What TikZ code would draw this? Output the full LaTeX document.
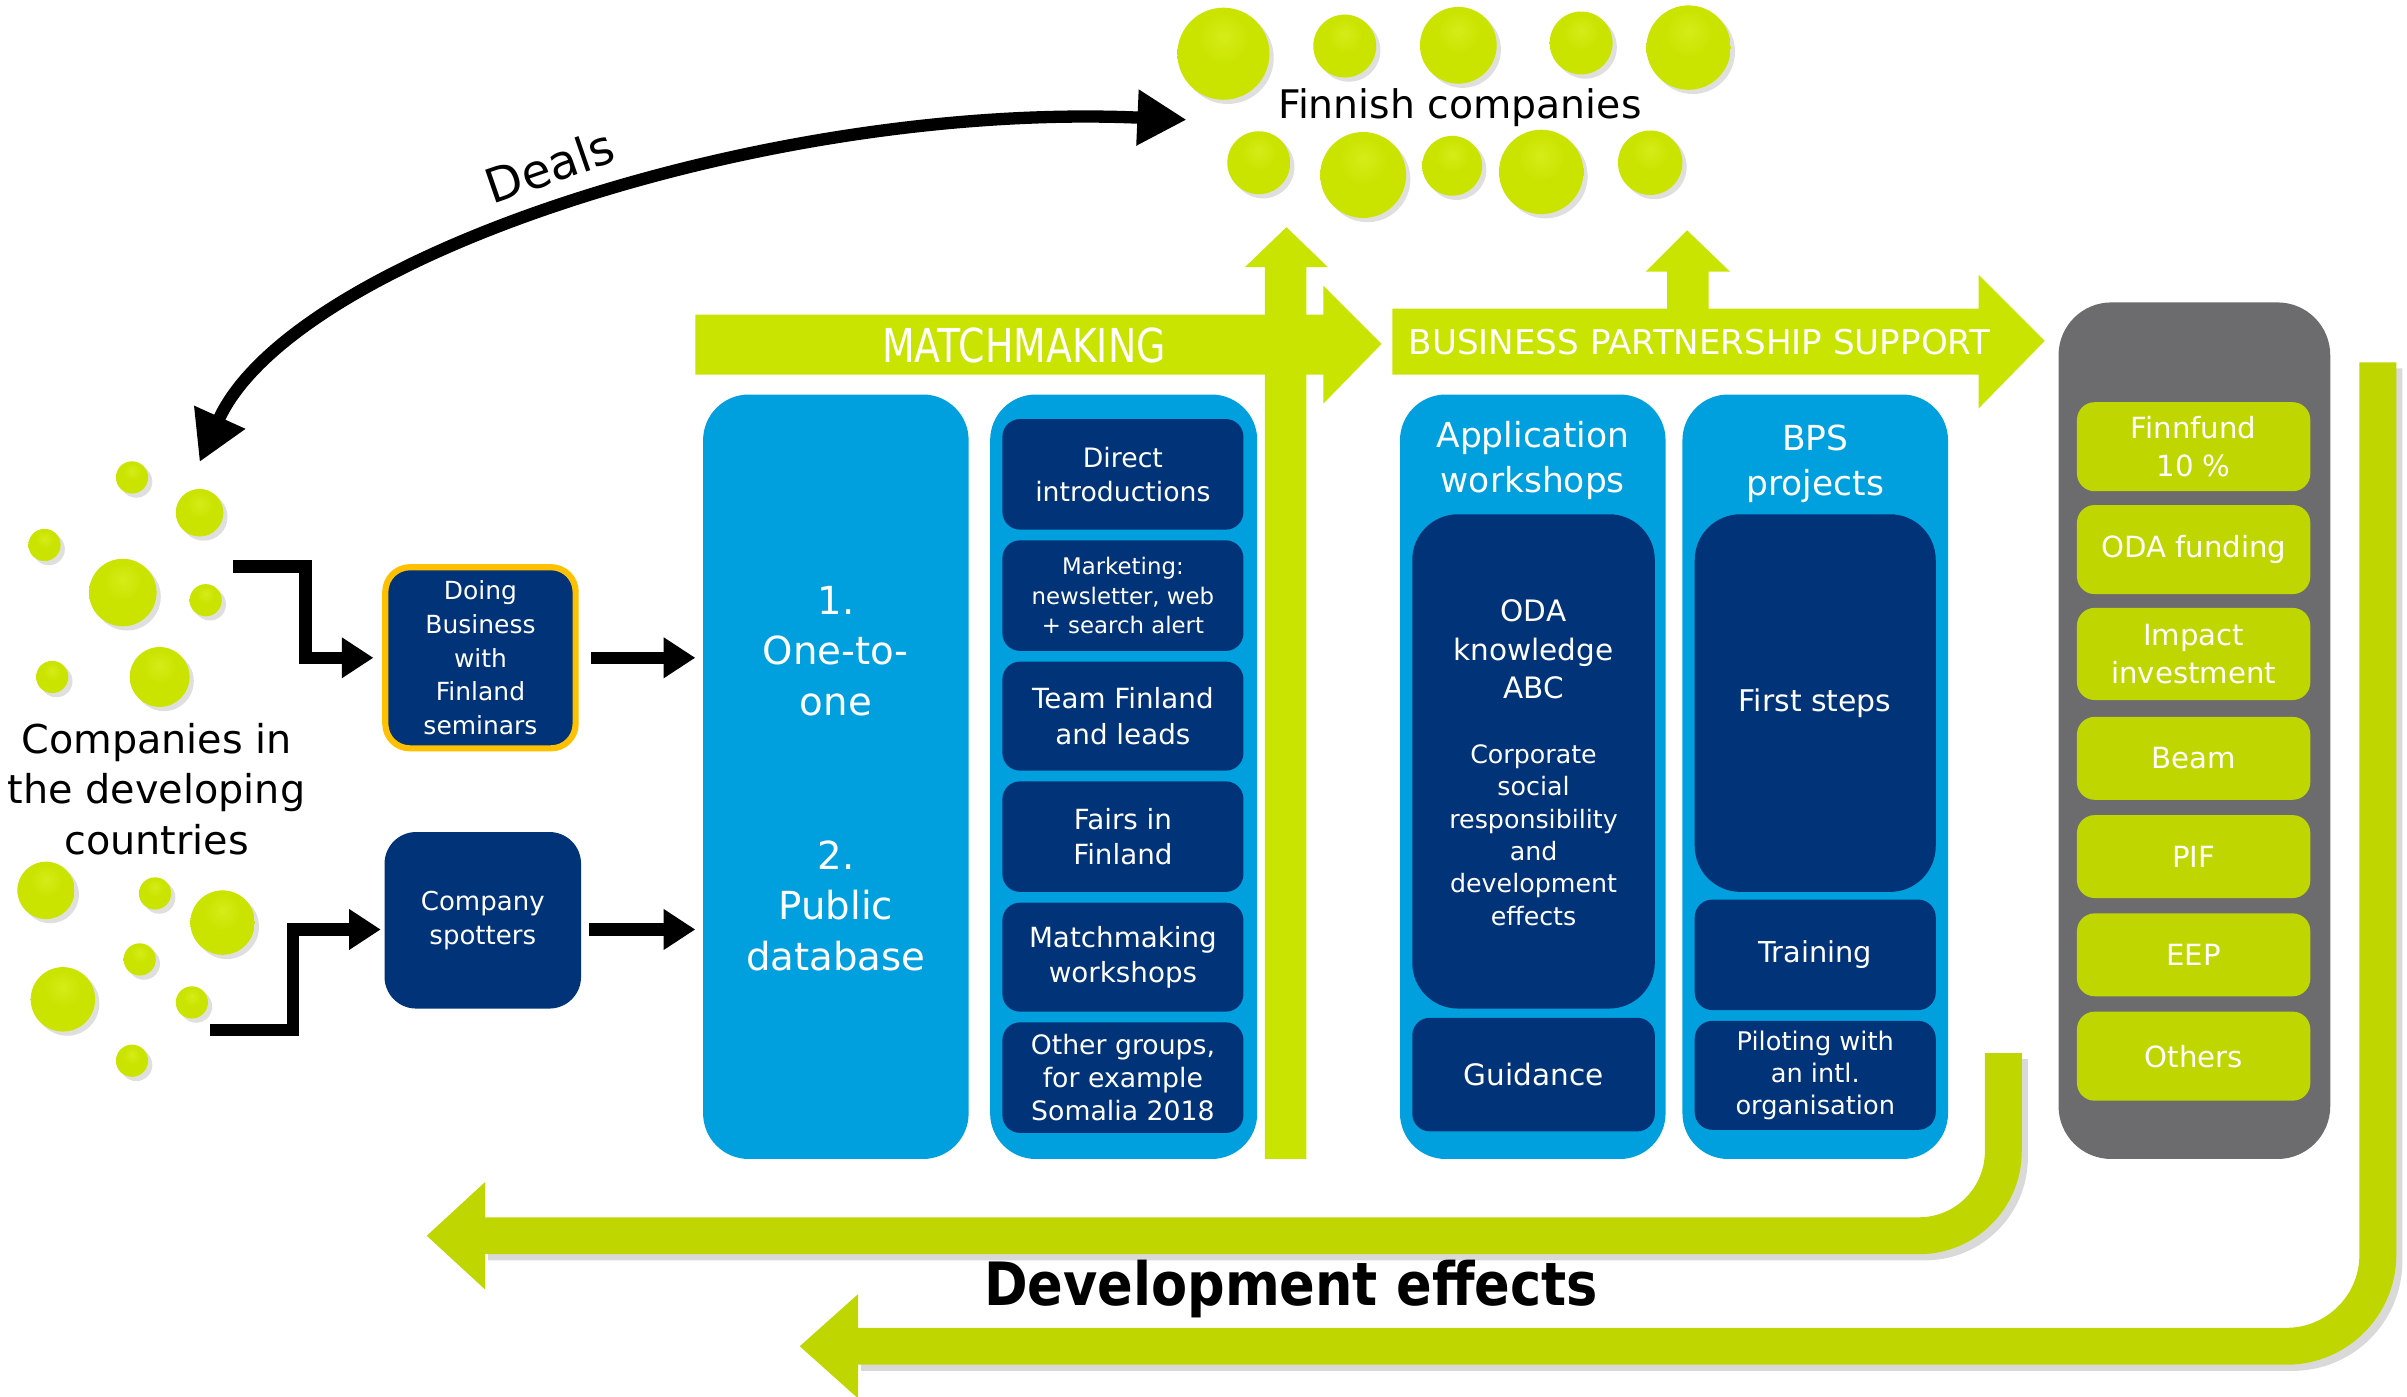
\documentclass[tikz,border=0pt]{standalone}
\usepackage{fontspec}
\setmainfont{DejaVu Sans}
\newfontfamily\condfont{DejaVu Sans}[FakeStretch=0.81]
\newfontfamily\devfont{DejaVu Sans}[FakeStretch=0.88]
\usetikzlibrary{arrows.meta,shadows,calc}
\definecolor{navy}{RGB}{0,51,119}
\definecolor{skyb}{RGB}{0,160,222}
\definecolor{limea}{RGB}{200,228,0}
\definecolor{limeb}{RGB}{192,214,0}
\definecolor{grayc}{RGB}{108,108,110}
\definecolor{gold}{RGB}{255,192,0}
\definecolor{ballhi}{RGB}{214,236,25}
\definecolor{ballmid}{RGB}{202,228,0}
\definecolor{balldk}{RGB}{172,194,0}
\definecolor{balledge}{RGB}{120,138,0}
\pgfdeclareradialshading{lball}{\pgfpoint{0bp}{10bp}}{color(0bp)=(ballhi); color(14bp)=(ballmid); color(38bp)=(ballmid); color(49bp)=(balldk); color(58bp)=(balledge); color(80bp)=(balledge)}
\newcommand{\fsz}[2]{\fontsize{#1}{#2}\selectfont}
\begin{document}
\begin{tikzpicture}[x=0.01535cm,y=-0.01535cm,
  sz/.style 2 args={minimum width=#1*0.01535cm, minimum height=#2*0.01535cm},
  column/.style={fill=skyb, rounded corners=13pt, inner sep=0pt},
  coltext/.style={text=white, align=center, font=\fsz{11}{14.4}},
  coltitle/.style={text=white, align=center, font=\fsz{9.8}{12.7}},
  navybox/.style={fill=navy, rounded corners=5pt, text=white, align=center, inner sep=0pt, font=\fsz{7.6}{9.6}},
  greenbox/.style={fill=limeb, rounded corners=5pt, text=white, align=center, inner sep=0pt, font=\fsz{8.3}{10.9}},
  conn/.style={line width=3.5pt, -{Triangle[length=9pt,width=11pt]}},
  bigarrow/.style={fill=limea},
  devarrow/.style={draw=limeb, line width=10.5pt},
  devshadow/.style={draw=black!15, line width=10.5pt},
  ball/.style={shading=lball, drop shadow={shadow xshift=1.2pt, shadow yshift=-1.2pt, opacity=0.25}}
]
\useasboundingbox (0,0) rectangle (1568,910);

% ---------- balls: Finnish companies
\foreach \x/\y/\r in {797/35/30, 876/30/20.5, 950/29.5/25, 1030/28/20.5, 1100/31/27.5,
                      820/106/20.5, 888/114/28, 946/108/19.5, 1004/112/27.5, 1075/106/21}
  \path[ball] (\x,\y) circle [radius=\r];
\node[font=\fsz{11.2}{13}] (fc) at (951,70) {Finnish companies};

% ---------- balls: developing countries
\foreach \x/\y/\r in {86/311/10.5, 130/334/15.5, 29/355/10.5, 80/386/22, 134/391/10.5, 34/441/10.5, 104/441/19.5,
                      30/580/18.7, 101/582/10.5, 145/601/21, 91/625/10.5, 41/651/21, 125/653/10.5, 86/691/10.5}
  \path[ball] (\x,\y) circle [radius=\r];
\node[align=center, font=\fsz{11.3}{14.4}] (dc) at (102,514) {Companies in\\the developing\\countries};

% ---------- Deals arrow
\coordinate (dl) at (130,301);
\coordinate (dr) at (773,78);
\draw[line width=3.5pt, {Triangle[length=14pt,width=15pt]}-{Triangle[length=14pt,width=15pt]}]
  (dl) .. controls (190,168) and (500,66) .. (dr);
\node[rotate=19, font=\fsz{13.5}{16}] (deals) at (358,108) {Deals};

% ---------- big lime arrows
\fill[bigarrow] (453,205) -- (862,205) -- (862,186) -- (900,224) -- (862,263) -- (862,244) -- (453,244) -- cycle;
\node[text=white, font=\condfont\fsz{13.3}{16}] (mm) at (667,225) {MATCHMAKING};
\fill[bigarrow] (824,755) -- (824,174) -- (811,174) -- (838,148) -- (865,174) -- (851,174) -- (851,755) -- cycle;

\fill[bigarrow] (1086,206) -- (1086,177) -- (1072,177) -- (1099,150) -- (1127,177) -- (1113,177) -- (1113,206) -- cycle;
\fill[bigarrow] (907,201) -- (1289,201) -- (1289,179) -- (1332,222) -- (1289,266) -- (1289,244) -- (907,244) -- cycle;
\node[text=white, font=\fsz{9.7}{12}] (bps) at (1107,223) {BUSINESS PARTNERSHIP SUPPORT};

% ---------- development effects arrows
\draw[devshadow, rounded corners=24pt] (1309,690) |- (318,809);
\draw[devarrow, rounded corners=24pt] (1305,686) |- (314,805);
\fill[limeb] (316,770) -- (278,805) -- (316,840) -- cycle;
\draw[devshadow, rounded corners=26pt] (1553,240) |- (561,881);
\draw[devarrow, rounded corners=26pt] (1549,236) |- (557,877);
\fill[limeb] (559,843) -- (521,877) -- (559,911) -- cycle;
\node[font=\devfont\bfseries\fsz{17}{20}] (de) at (841,840) {Development effects};

% ---------- column 1
\node[column, sz={173}{498}] (c1) at (544.5,506) {};
\node[coltext] (c1a) at (544.5,424) {1.\\One-to-\\one};
\node[coltext] (c1b) at (544.5,590) {2.\\Public\\database};

% ---------- column 2
\node[column, sz={174}{498}] (c2) at (732,506) {};
\node[navybox, sz={157}{72}] (di) at (731.5,309) {Direct\\introductions};
\node[navybox, sz={157}{72}, font=\fsz{6.5}{8.4}] (mk) at (731.5,388) {Marketing:\\newsletter, web\\+ search alert};
\node[navybox, sz={157}{71}, font=\fsz{7.9}{10}] (tf) at (731.5,466.5) {Team Finland\\and leads};
\node[navybox, sz={157}{72}, font=\fsz{7.9}{10}] (fi) at (731.5,545) {Fairs in\\Finland};
\node[navybox, sz={157}{71}, font=\fsz{7.9}{10}] (mw) at (731.5,623.5) {Matchmaking\\workshops};
\node[navybox, sz={157}{72}, font=\fsz{7.6}{9.3}] (og) at (731.5,702) {Other groups,\\for example\\Somalia 2018};

% ---------- column 3
\node[column, sz={173}{498}] (c3) at (998.5,506) {};
\node[coltitle] (c3t) at (998.5,300) {Application\\workshops};
\node[navybox, rounded corners=13pt, sz={158}{322}] (oda) at (999,496) {};
\node[text=white, align=center, font=\fsz{8.4}{10.9}] (odat) at (999,423) {ODA\\knowledge\\ABC};
\node[text=white, align=center, font=\fsz{7.2}{9.2}] (csr) at (999,544) {Corporate\\social\\responsibility\\and\\development\\effects};
\node[navybox, sz={158}{74}, font=\fsz{8.4}{10}] (guid) at (999,700) {Guidance};

% ---------- column 4
\node[column, sz={173}{498}] (c4) at (1182.5,506) {};
\node[coltitle] (c4t) at (1182.5,302) {BPS\\projects};
\node[navybox, rounded corners=13pt, sz={157}{246}, font=\fsz{8.5}{10}] (fs) at (1182.5,458) {First steps};
\node[navybox, sz={157}{72}, font=\fsz{8.2}{10}] (tr) at (1182.5,622) {Training};
\node[navybox, sz={157}{71}, font=\fsz{7.3}{9.2}] (pil) at (1182.5,700.5) {Piloting with\\an intl.\\organisation};

% ---------- gray funding column
\node[fill=grayc, rounded corners=15pt, sz={177}{558}, inner sep=0pt] (gc) at (1429.5,476) {};
\node[greenbox, sz={152}{58}] (ff) at (1429,291) {Finnfund\\10 \%};
\node[greenbox, sz={152}{58}] (odaf) at (1429,358) {ODA funding};
\node[greenbox, sz={152}{60}] (imp) at (1429,426) {Impact\\investment};
\node[greenbox, sz={152}{54}] (beam) at (1429,494) {Beam};
\node[greenbox, sz={152}{54}] (pif) at (1429,558) {PIF};
\node[greenbox, sz={152}{54}] (eep) at (1429,622) {EEP};
\node[greenbox, sz={152}{58}] (oth) at (1429,688) {Others};

% ---------- entry boxes
\node[navybox, draw=gold, line width=1.75pt, rounded corners=7pt, sz={124}{118}, font=\fsz{7.1}{9.6}] (dbw) at (313,428.5) {Doing\\Business\\with\\Finland\\seminars};
\node[navybox, rounded corners=9pt, sz={128}{115}, font=\fsz{7.4}{9.6}] (cs) at (314.5,599.5) {Company\\spotters};

% ---------- black connectors
\coordinate (s1) at (152,369);
\coordinate (s2) at (137,671);
\draw[conn, shorten >=2.5pt] (s1) -- ++(47,0) |- (dbw.west);
\draw[conn] (s2) -- ++(54,0) |- ($(cs.west)+(-2,6)$);
\draw[conn, shorten <=3.5pt, shorten >=2pt] (dbw.east) -- (dbw.east -| c1.west);
\draw[conn, shorten <=2pt, shorten >=2pt] ($(cs.east)+(0,6)$) -- ($(cs.east -| c1.west)+(0,6)$);
\end{tikzpicture}
\end{document}
